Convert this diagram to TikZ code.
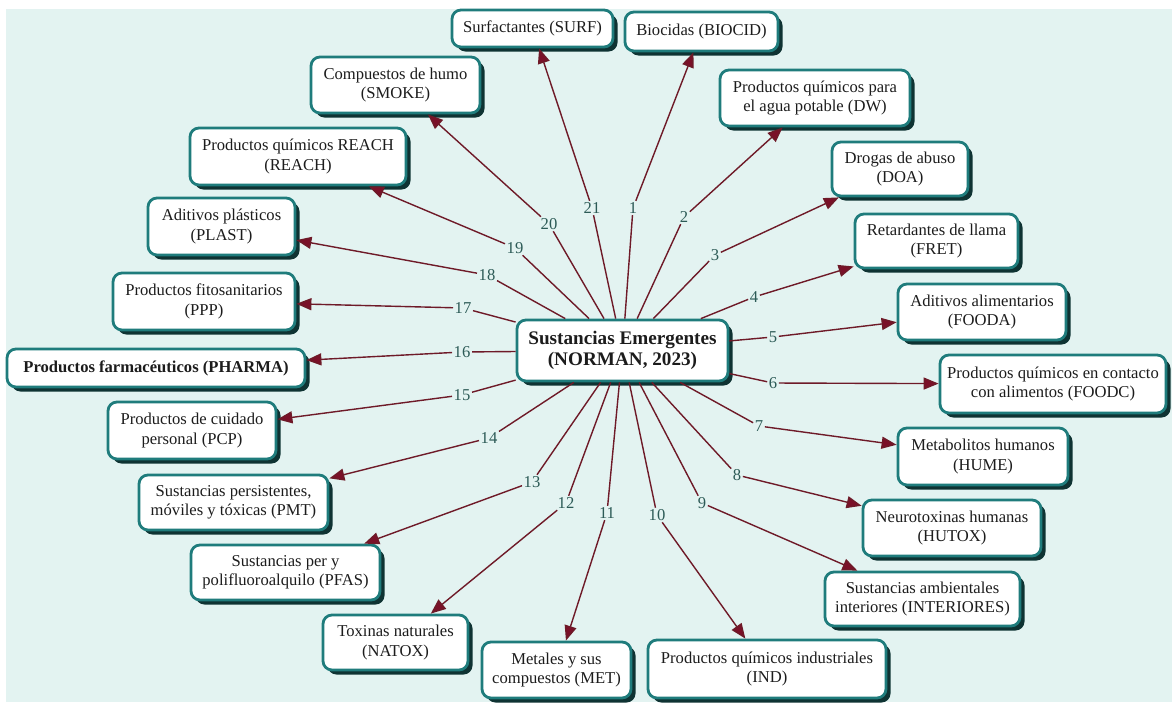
\documentclass[tikz,border=0pt]{standalone}
\usepackage{fontspec}
\setmainfont{Liberation Serif}
\usetikzlibrary{shadows,arrows.meta}
\definecolor{bgc}{HTML}{E3F3F1}
\definecolor{boxc}{HTML}{1F7C7C}
\definecolor{shc}{HTML}{0F3333}
\definecolor{linkc}{HTML}{6E1A28}
\definecolor{tipc}{HTML}{7A1028}
\definecolor{txtc}{HTML}{1C1C1C}
\definecolor{numc}{HTML}{2C5A56}
\begin{document}
\begin{tikzpicture}[x=1pt,y=-1pt,
  box/.style={draw=boxc, line width=2.8pt, fill=white, rounded corners=9pt,
    align=center, inner sep=2pt, text=txtc,
    font=\fontsize{16.6}{19.5}\selectfont,
    drop shadow={shadow xshift=4.5pt, shadow yshift=-4.5pt, fill=shc, opacity=1}},
  num/.style={font=\fontsize{16.6}{19.5}\selectfont, text=numc, inner sep=1.5pt},
  link/.style={draw=linkc, line width=1.4pt},
  arr/.style={link, -{Triangle[length=15pt,width=12pt,fill=tipc]}},
]
\useasboundingbox (0,0) rectangle (1172,702);
\clip (0,0) rectangle (1172,702);
\fill[bgc] (6,9) rectangle (1172,702);

% central node
\node[box, minimum width=211pt, minimum height=61pt,
  font=\fontsize{19.2}{20.5}\selectfont\bfseries] (c) at (622.5,350.5)
  {Sustancias Emergentes\\(NORMAN, 2023)};

% target nodes
\node[box, minimum width=161pt, minimum height=37pt] (surf) at (532.5,28.5) {Surfactantes (SURF)};
\node[box, minimum width=153pt, minimum height=39pt] (biocid) at (701.5,31.5) {Biocidas (BIOCID)};
\node[box, minimum width=190pt, minimum height=56pt] (dw) at (815,98) {Productos químicos para\\el agua potable (DW)};
\node[box, minimum width=136pt, minimum height=54pt] (doa) at (900,169) {Drogas de abuso\\(DOA)};
\node[box, minimum width=163pt, minimum height=54pt] (fret) at (936.5,241) {Retardantes de llama\\(FRET)};
\node[box, minimum width=168pt, minimum height=56pt] (fooda) at (982,312) {Aditivos alimentarios\\(FOODA)};
\node[box, minimum width=226pt, minimum height=58pt] (foodc) at (1053,384) {Productos químicos en contacto\\con alimentos (FOODC)};
\node[box, minimum width=170pt, minimum height=57pt] (hume) at (983,456.5) {Metabolitos humanos\\(HUME)};
\node[box, minimum width=178pt, minimum height=56pt] (hutox) at (952,528) {Neurotoxinas humanas\\(HUTOX)};
\node[box, minimum width=195pt, minimum height=54pt] (inter) at (922.5,599) {Sustancias ambientales\\interiores (INTERIORES)};
\node[box, minimum width=238pt, minimum height=58pt] (ind) at (767,669) {Productos químicos industriales\\(IND)};
\node[box, minimum width=149pt, minimum height=56pt] (met) at (556.5,670) {Metales y sus\\compuestos (MET)};
\node[box, minimum width=145pt, minimum height=55pt] (natox) at (395.5,642.5) {Toxinas naturales\\(NATOX)};
\node[box, minimum width=189pt, minimum height=55pt] (pfas) at (285.5,572.5) {Sustancias per y\\polifluoroalquilo (PFAS)};
\node[box, minimum width=189pt, minimum height=55pt] (pmt) at (233.5,502.5) {Sustancias persistentes,\\móviles y tóxicas (PMT)};
\node[box, minimum width=168pt, minimum height=57pt] (pcp) at (192,430.5) {Productos de cuidado\\personal (PCP)};
\node[box, minimum width=298pt, minimum height=38pt, font=\fontsize{16.6}{19.5}\selectfont\bfseries] (pharma) at (156,368) {Productos farmacéuticos (PHARMA)};
\node[box, minimum width=182pt, minimum height=57pt] (ppp) at (204,301.5) {Productos fitosanitarios\\(PPP)};
\node[box, minimum width=147pt, minimum height=57pt] (plast) at (221.5,226.5) {Aditivos plásticos\\(PLAST)};
\node[box, minimum width=216pt, minimum height=57pt] (reach) at (298,156.5) {Productos químicos REACH\\(REACH)};
\node[box, minimum width=169pt, minimum height=56pt] (smoke) at (395.5,85) {Compuestos de humo\\(SMOKE)};

% number labels
\node[num] (n1) at (633,208) {1};
\node[num] (n2) at (684,217) {2};
\node[num] (n3) at (715,255) {3};
\node[num] (n4) at (754,297) {4};
\node[num] (n5) at (773,337) {5};
\node[num] (n6) at (773,383) {6};
\node[num] (n7) at (759,426) {7};
\node[num] (n8) at (737,475) {8};
\node[num] (n9) at (702,503) {9};
\node[num] (n10) at (657,515) {10};
\node[num] (n11) at (607,513) {11};
\node[num] (n12) at (566,503) {12};
\node[num] (n13) at (532,482) {13};
\node[num] (n14) at (489,438) {14};
\node[num] (n15) at (462,395) {15};
\node[num] (n16) at (462,352) {16};
\node[num] (n17) at (463,308) {17};
\node[num] (n18) at (487,275) {18};
\node[num] (n19) at (515,248) {19};
\node[num] (n20) at (549,224) {20};
\node[num] (n21) at (592,208) {21};

% connectors
\foreach \n/\t in {1/biocid,2/dw,3/doa,4/fret,5/fooda,6/foodc,7/hume,8/hutox,
  9/inter,10/ind,11/met,12/natox,13/pfas,14/pmt,15/pcp,16/pharma,17/ppp,
  18/plast,19/reach,20/smoke,21/surf}{
  \draw[link] (c) -- (n\n);
  \draw[arr] (n\n) -- (\t);
}
\end{tikzpicture}
\end{document}
